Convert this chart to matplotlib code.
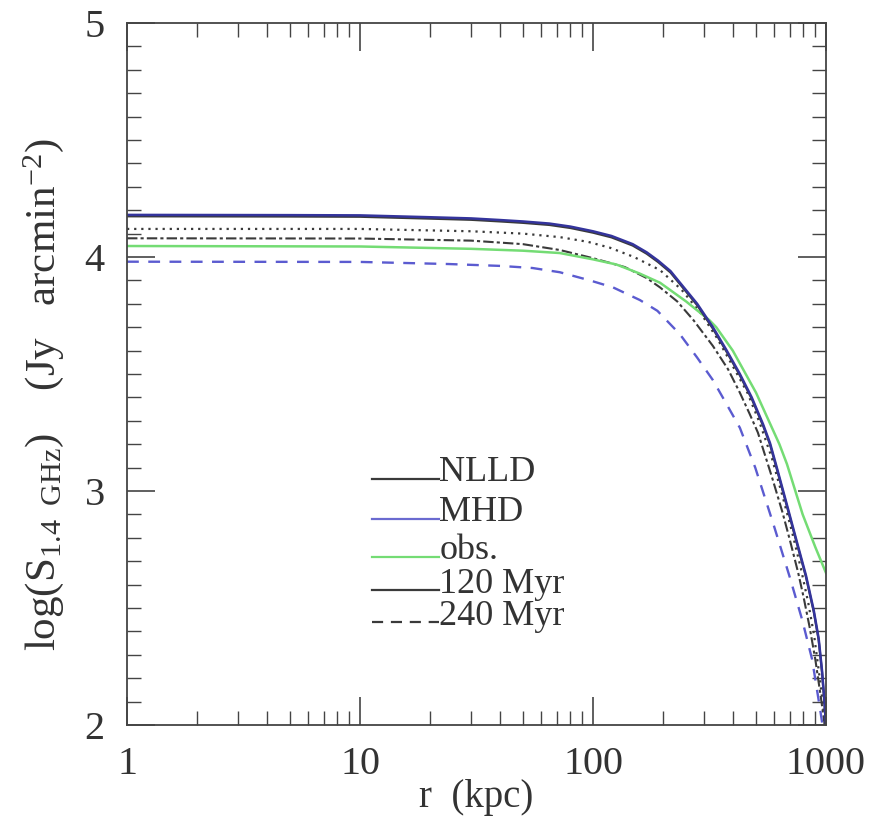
import numpy as np
import matplotlib
matplotlib.use("Agg")
import matplotlib.pyplot as plt
from matplotlib.ticker import MultipleLocator, LogLocator, NullFormatter, FixedLocator, FixedFormatter

plt.rcParams['font.family'] = ['Liberation Serif', 'DejaVu Serif']
plt.rcParams['mathtext.fontset'] = 'custom'
plt.rcParams['mathtext.rm'] = 'Liberation Serif'
plt.rcParams['mathtext.it'] = 'Liberation Serif:italic'

# Radio surface brightness profiles, log S(1.4 GHz) vs radius r (kpc)
r_mhd120 = [1, 5, 10, 20, 30, 40, 50, 65, 80, 100, 120, 148, 170, 190, 215, 243, 280, 327,
            375, 427, 480, 537, 575, 615, 680, 751, 820, 886, 930, 962, 985, 1000]
s_mhd120 = [4.18, 4.179, 4.178, 4.17, 4.165, 4.158, 4.152, 4.143, 4.13, 4.11, 4.09, 4.055, 4.02,
            3.985, 3.94, 3.875, 3.80, 3.70, 3.60, 3.50, 3.40, 3.285, 3.205, 3.10, 2.94, 2.78,
            2.64, 2.49, 2.37, 2.23, 2.10, 2.0]

r_nlld120 = r_mhd120
s_nlld120 = [4.174, 4.173, 4.172, 4.164, 4.159, 4.152, 4.146, 4.137, 4.124, 4.104, 4.084, 4.049,
             4.014, 3.979, 3.934, 3.869, 3.794, 3.694, 3.594, 3.494, 3.394, 3.279, 3.199, 3.094,
             2.934, 2.774, 2.634, 2.484, 2.364, 2.224, 2.094, 1.99]

r_mhd240 = [1, 10, 24, 40, 55, 72, 97, 122, 159, 189, 236, 280, 327, 375, 427, 497, 594, 700,
            790, 872, 946, 1000]
s_mhd240 = [3.98, 3.979, 3.97, 3.962, 3.953, 3.935, 3.90, 3.87, 3.816, 3.77, 3.67, 3.57, 3.474,
            3.37, 3.27, 3.10, 2.86, 2.63, 2.45, 2.28, 2.06, 1.9]

r_nlld240 = [1, 10, 30, 50, 72, 100, 137, 170, 194, 230, 270, 327, 380, 427, 470, 510, 586, 650,
             700, 760, 800, 850, 900, 950, 1000]
s_nlld240 = [4.08, 4.079, 4.07, 4.055, 4.03, 3.995, 3.957, 3.91, 3.87, 3.81, 3.73, 3.62, 3.52,
             3.42, 3.33, 3.25, 3.06, 2.91, 2.79, 2.65, 2.55, 2.42, 2.28, 2.12, 1.96]

r_dot = [1, 10, 30, 50, 72, 95, 118, 150, 194, 240, 290, 340, 400, 460, 520, 586, 650, 713, 780,
         840, 890, 940, 975, 1000]
s_dot = [4.12, 4.12, 4.11, 4.10, 4.085, 4.065, 4.04, 4.00, 3.944, 3.86, 3.76, 3.655, 3.53, 3.42,
         3.29, 3.14, 2.98, 2.83, 2.67, 2.52, 2.38, 2.20, 2.07, 1.96]

r_obs = [1, 10, 30, 50, 72, 100, 126, 158, 194, 251, 316, 338, 398, 501, 631, 680, 794, 900, 1000]
s_obs = [4.047, 4.045, 4.035, 4.027, 4.017, 3.99, 3.968, 3.93, 3.89, 3.81, 3.73, 3.70, 3.60, 3.42,
         3.20, 3.115, 2.90, 2.76, 2.65]

legend_labels = ["NLLD", "MHD", "obs.", "120 Myr", "240 Myr"]

c_black = "#3a3a3a"
c_blue = "#34349c"
c_blue_l = "#5b5bd0"
c_green = "#74dc74"

fig = plt.figure(figsize=(8.92, 8.22), dpi=100)
ax = fig.add_axes([0.1424, 0.118, 0.7836, 0.854])

ax.plot(r_dot, s_dot, color=c_black, lw=1.6, ls=(0, (1, 2.2)))
ax.plot(r_nlld240, s_nlld240, color=c_black, lw=1.5, ls=(0, (5, 1.5, 1.5, 1.5)))
ax.plot(r_mhd240, s_mhd240, color=c_blue_l, lw=1.7, ls=(0, (5, 4)))
ax.plot(r_obs, s_obs, color=c_green, lw=1.8)
ax.plot(r_nlld120, s_nlld120, color=c_black, lw=1.6)
ax.plot(r_mhd120, s_mhd120, color=c_blue, lw=1.8)

ax.set_xscale("log")
ax.set_xlim(1, 1000)
ax.set_ylim(2, 5)

ax.xaxis.set_major_locator(FixedLocator([1, 10, 100, 1000]))
ax.xaxis.set_major_formatter(FixedFormatter(["1", "10", "100", "1000"]))
ax.xaxis.set_minor_locator(LogLocator(base=10, subs=np.arange(2, 10)))
ax.xaxis.set_minor_formatter(NullFormatter())
ax.yaxis.set_major_locator(MultipleLocator(1))
ax.yaxis.set_minor_locator(MultipleLocator(0.1))

ax.tick_params(which="both", direction="in", top=True, right=True, colors="#444444")
ax.tick_params(which="major", length=20, width=1.2, labelsize=29, labelcolor="#333333")
ax.tick_params(axis="x", which="major", pad=15)
ax.tick_params(axis="y", which="major", pad=16)
ax.tick_params(which="minor", length=10, width=1.0)
for s in ax.spines.values():
    s.set_color("#444444")
    s.set_linewidth(1.3)

ax.set_xlabel("r  (kpc)", fontsize=28, color="#333333", labelpad=-3)
ax.set_ylabel(r"log(S$_{\rm 1.4\ \ GHz}$)    (Jy   arcmin$^{-2}$)", fontsize=31, color="#333333")
ax.yaxis.set_label_coords(-0.087, 0.47)

# hand-drawn key in axes coordinates
key_y = [0.351, 0.294, 0.240, 0.192, 0.147]
key_style = [
    dict(color=c_black, lw=1.6, ls="-"),
    dict(color="#6a6ad0", lw=1.6, ls="-"),
    dict(color=c_green, lw=1.6, ls="-"),
    dict(color=c_black, lw=1.6, ls="-"),
    dict(color=c_black, lw=1.6, ls=(0, (5, 3.5))),
]
for yk, lab, st in zip(key_y, legend_labels, key_style):
    ax.plot([0.350, 0.447], [yk, yk], transform=ax.transAxes, **st)
    ax.text(0.447, yk - 0.004, lab, transform=ax.transAxes, fontsize=26,
            color="#333333", ha="left", va="baseline")

fig.savefig("out.png", dpi=100)
